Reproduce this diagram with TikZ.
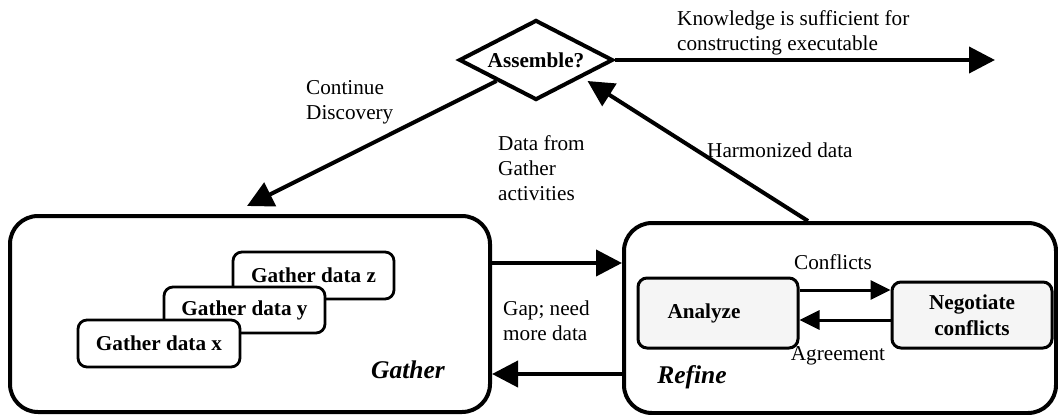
\documentclass[tikz,border=0pt]{standalone}
\usepackage{fontspec}
\setmainfont{Liberation Serif}
\usetikzlibrary{shapes.geometric,arrows.meta,calc}
\begin{document}
\begin{tikzpicture}[x=1pt,y=-1pt,
  txt/.style={font=\fontsize{21.2}{25}\selectfont, inner sep=0pt},
  bigbox/.style={draw, line width=4pt, rounded corners=28pt, inner sep=0pt},
  databox/.style={draw, line width=2.8pt, rounded corners=9pt, fill=white,
    font=\fontsize{21.2}{25}\selectfont\bfseries, inner sep=0pt, align=center},
  refbox/.style={draw, line width=3pt, rounded corners=9pt, fill=black!4,
    font=\fontsize{21.2}{26}\selectfont\bfseries, inner sep=0pt, align=center},
  decision/.style={draw, diamond, line width=4pt, aspect=1.925, inner sep=0pt,
    minimum width=154pt, minimum height=80pt, fill=white,
    font=\fontsize{21.2}{25}\selectfont\bfseries},
  arr/.style={line width=4pt, -{Triangle[length=26pt,width=26pt]}},
  sarr/.style={line width=3pt, -{Triangle[length=20pt,width=19pt]}},
  phase/.style={font=\fontsize{25.5}{30}\selectfont\bfseries\itshape, inner sep=0pt}
]
\useasboundingbox (0,0) rectangle (1058,415);

% main boxes
\node[bigbox, minimum width=480pt, minimum height=196pt] (gather) at (250,314) {};
\node[bigbox, minimum width=432pt, minimum height=190pt] (refine) at (840,318) {};

% gather sub-activities
\node[databox, minimum width=161pt, minimum height=47pt] (gz) at (313.5,275.5) {Gather data z};
\node[databox, minimum width=161pt, minimum height=46pt] (gy) at (244.5,310) {Gather data y};
\node[databox, minimum width=162pt, minimum height=47pt] (gx) at (159,343.5) {Gather data x};
\node[phase] (gatherlbl) at (408,370) {Gather};

% refine sub-activities
\node[refbox, minimum width=160pt, minimum height=70pt] (analyze) at (718,313) {Analyze\hspace{28pt}};
\node[refbox, minimum width=160pt, minimum height=66pt] (negotiate) at (972,315) {Negotiate\\conflicts};
\node[phase] (refinelbl) at (692,377) {Refine};

% decision
\node[decision] (assemble) at (536,60) {Assemble?};
\coordinate (kend) at (995,60);

% connectors
\draw[arr] ([yshift=51pt]gather.east) -- ([yshift=51pt]gather.east -| refine.west);
\draw[arr] ([yshift=-56pt]refine.west) -- ([yshift=-56pt]refine.west -| gather.east);
\draw[sarr] ([yshift=23pt]analyze.east) -- ([yshift=23pt]analyze.east -| negotiate.west);
\draw[sarr] ([yshift=-5pt]negotiate.west) -- ([yshift=-5pt]negotiate.west -| analyze.east);
\draw[arr] (assemble.south west) -- ([xshift=-3pt,yshift=8pt]gather.north);
\draw[arr] ([xshift=-32pt]refine.north) -- ($(assemble.south east)+(12,0)$);
\draw[arr] (assemble.east) -- (kend);

% labels
\node[txt, anchor=west, align=left] (lcont) at (306,102.5) {Continue\\Discovery};
\node[txt, anchor=west, align=left] (ldata) at (498,168) {Data from\\Gather\\activities};
\node[txt, anchor=west] (lharm) at (707,150) {Harmonized data};
\node[txt, anchor=west, align=left] (lknow) at (677,32.5) {Knowledge is sufficient for\\constructing executable};
\node[txt, anchor=west, align=left] (lgap) at (503,320.5) {Gap; need\\more data};
\node[txt] (lconf) at (833,262) {Conflicts};
\node[txt] (lagree) at (838,356) {Agreement};
\end{tikzpicture}
\end{document}
